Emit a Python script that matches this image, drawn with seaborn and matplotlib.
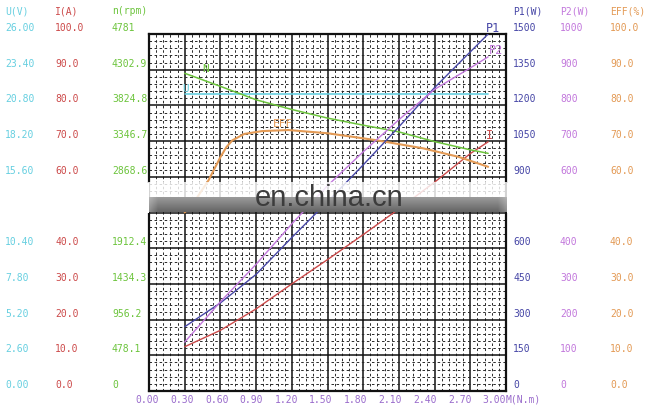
import matplotlib
matplotlib.use("Agg")
import matplotlib.pyplot as plt
import matplotlib.transforms as mtransforms
from matplotlib.patches import Rectangle
import numpy as np
import seaborn as sns

sns.set_style("white")
plt.rcParams['font.family'] = ['DejaVu Sans Mono', 'DejaVu Sans']

# ---------------- data ----------------
M = [0.30, 0.60, 0.90, 1.20, 1.50, 1.80, 2.10, 2.40, 2.70, 2.85]
U = [21.6, 21.6, 21.6, 21.6, 21.6, 21.6, 21.6, 21.6, 21.6, 21.6]
N_rpm = [4255, 4080, 3900, 3770, 3655, 3560, 3470, 3340, 3230, 3183]
I_amp = [12.4, 17.0, 23.0, 30.0, 36.8, 43.8, 51.0, 58.5, 66.5, 69.8]
P1 = [270, 370, 490, 645, 795, 950, 1110, 1275, 1425, 1500]
P2 = [137, 250, 355, 468, 575, 670, 760, 845, 905, 936]
M_eff = [0.30, 0.40, 0.50, 0.60, 0.65, 0.70, 0.80, 0.95, 1.17, 1.50, 1.90, 2.30, 2.60, 2.85]
EFF = [50.0, 54.0, 59.0, 65.5, 68.3, 70.2, 72.0, 72.8, 73.1, 72.2, 70.3, 68.0, 65.6, 62.8]

x_tick_labels = ["0.00", "0.30", "0.60", "0.90", "1.20", "1.50", "1.80", "2.10", "2.40", "2.70", "3.00"]

U_ticks = [26.00, 23.40, 20.80, 18.20, 15.60, 10.40, 7.80, 5.20, 2.60, 0.00]
U_labels = ["26.00", "23.40", "20.80", "18.20", "15.60", "10.40", "7.80", "5.20", "2.60", "0.00"]
I_ticks = [100, 90, 80, 70, 60, 40, 30, 20, 10, 0]
I_labels = ["100.0", "90.0", "80.0", "70.0", "60.0", "40.0", "30.0", "20.0", "10.0", "0.0"]
N_ticks = [4781, 4302.9, 3824.8, 3346.7, 2868.6, 1912.4, 1434.3, 956.2, 478.1, 0]
N_labels = ["4781", "4302.9", "3824.8", "3346.7", "2868.6", "1912.4", "1434.3", "956.2", "478.1", "0"]
P1_ticks = [1500, 1350, 1200, 1050, 900, 600, 450, 300, 150, 0]
P1_labels = ["1500", "1350", "1200", "1050", "900", "600", "450", "300", "150", "0"]
P2_ticks = [1000, 900, 800, 700, 600, 400, 300, 200, 100, 0]
P2_labels = ["1000", "900", "800", "700", "600", "400", "300", "200", "100", "0"]
EFF_ticks = [100, 90, 80, 70, 60, 40, 30, 20, 10, 0]
EFF_labels = ["100.0", "90.0", "80.0", "70.0", "60.0", "40.0", "30.0", "20.0", "10.0", "0.0"]

# ---------------- colours ----------------
C_U = "#66cfe0"
C_I = "#cc4a4a"
C_N = "#6cc43c"
C_P1 = "#4646a6"
C_P2 = "#c278dc"
C_EFF = "#e39a55"
C_X = "#9a6ccc"

W, H = 658, 413
fig = plt.figure(figsize=(W / 100, H / 100), dpi=100)

def fx(px):
    return px / W

def fy(py):
    return (H - py) / H

left, right, top, bottom = 149, 506, 34, 391
ax = fig.add_axes([fx(left), fy(bottom), (right - left) / W, (bottom - top) / H])
ax.set_xlim(0, 3.0)
ax.set_ylim(0, 100)
ax.set_xticks(np.arange(0, 3.01, 0.3))
ax.set_xticks(np.arange(0, 3.001, 0.06), minor=True)
ax.set_yticks(np.arange(0, 101, 10))
ax.set_yticks(np.arange(0, 101, 2), minor=True)
ax.grid(which='major', color='#111111', lw=1.1)
ax.grid(which='minor', color='#2a2a2a', lw=0.7, linestyle=(0, (2.6, 2.6)))
ax.tick_params(which='both', length=0, labelleft=False, labelbottom=False)
for s in ax.spines.values():
    s.set_color('#111111')
    s.set_linewidth(1.6)
ax.set_axisbelow(True)

def twin(ymax):
    t = ax.twinx()
    t.set_ylim(0, ymax)
    t.axis('off')
    return t

axU = twin(26)
axN = twin(4781)
axP1 = twin(1500)
axP2 = twin(1000)

sns.lineplot(x=M, y=U, ax=axU, color=C_U, lw=1.2, legend=False)
sns.lineplot(x=M, y=N_rpm, ax=axN, color=C_N, lw=1.1, legend=False)
sns.lineplot(x=M, y=P1, ax=axP1, color=C_P1, lw=1.0, legend=False)
sns.lineplot(x=M, y=P2, ax=axP2, color=C_P2, lw=1.0, legend=False)
sns.lineplot(x=M, y=I_amp, ax=ax, color=C_I, lw=1.0, legend=False)
sns.lineplot(x=M_eff, y=EFF, ax=ax, color=C_EFF, lw=1.5, legend=False)
for a in (ax, axU, axN, axP1, axP2):
    a.set_xlim(0, 3.0)
    a.set_xlabel("")
    a.set_ylabel("")

# curve labels
axP1.text(2.89, 1525, "P1", color=C_P1, fontsize=8.5, ha='center', va='center')
axP2.text(2.92, 955, "P2", color=C_P2, fontsize=8.5, ha='center', va='center')
ax.text(2.865, 71.5, "I", color=C_I, fontsize=8.5, ha='center', va='center')
ax.text(1.13, 74.8, "EFF", color=C_EFF, fontsize=8, ha='center', va='center')
axN.text(0.48, 4312, "N", color=C_N, fontsize=8, ha='center', va='center')
axU.text(0.31, 22.0, "U", color=C_U, fontsize=8, ha='center', va='center')

# axis value labels (left and right columns)
fs = 7
def column(axis, ticks, labels, xpx, color):
    tr = mtransforms.blended_transform_factory(fig.transFigure, axis.transData)
    tr = mtransforms.offset_copy(tr, fig=fig, x=0, y=6, units='dots')
    for v, lab in zip(ticks, labels):
        fig.text(fx(xpx), v, lab, transform=tr, color=color, fontsize=fs,
                 ha='left', va='center')

column(axU, U_ticks, U_labels, 5, C_U)
column(ax, I_ticks, I_labels, 55, C_I)
column(axN, N_ticks, N_labels, 112, C_N)
column(axP1, P1_ticks, P1_labels, 513, C_P1)
column(axP2, P2_ticks, P2_labels, 560, C_P2)
column(ax, EFF_ticks, EFF_labels, 610, C_EFF)

for txt, xpx, col in [("U(V)", 5, C_U), ("I(A)", 55, C_I), ("n(rpm)", 112, C_N),
                      ("P1(W)", 513, C_P1), ("P2(W)", 560, C_P2), ("EFF(%)", 610, C_EFF)]:
    fig.text(fx(xpx), fy(11), txt, color=col, fontsize=fs, ha='left', va='center')

# x labels
for i, lab in enumerate(x_tick_labels):
    xc = 147.5 + i * 34.7
    fig.text(fx(xc), fy(400), lab, color=C_X, fontsize=fs, ha='center', va='center')
fig.text(fx(506), fy(400), "M(N.m)", color=C_X, fontsize=fs, ha='left', va='center')

# watermark band
fig.add_artist(Rectangle((0, fy(213)), fx(left), (213 - 183) / H, transform=fig.transFigure,
                         facecolor='white', edgecolor='none', zorder=5))
fig.add_artist(Rectangle((fx(right + 1), fy(213)), 1 - fx(right + 1), (213 - 183) / H,
                         transform=fig.transFigure, facecolor='white', edgecolor='none', zorder=5))
fig.add_artist(Rectangle((fx(left - 1), fy(197)), (right - left + 2) / W, (197 - 182) / H,
                         transform=fig.transFigure, facecolor='white', edgecolor='none',
                         alpha=0.82, zorder=5))
bax = fig.add_axes([fx(left), fy(212.5), (right - left + 1) / W, 15.5 / H], zorder=10)
grad = np.linspace(0.62, 0.40, 16)[:, None] * np.ones((1, 300))
edge = np.ones(300)
edge[:8] = np.linspace(0.75, 1.0, 8)
edge[-8:] = np.linspace(1.0, 0.75, 8)
img = 1 - (1 - grad) * edge[None, :]
bax.imshow(img, cmap='gray', vmin=0, vmax=1, aspect='auto', interpolation='bilinear')
bax.axis('off')
fig.text(fx(329), fy(198), "en.china.cn", family='Liberation Sans', fontsize=21,
         color='#3c3c3c', ha='center', va='center', zorder=11)

fig.savefig("out.png", dpi=100)
